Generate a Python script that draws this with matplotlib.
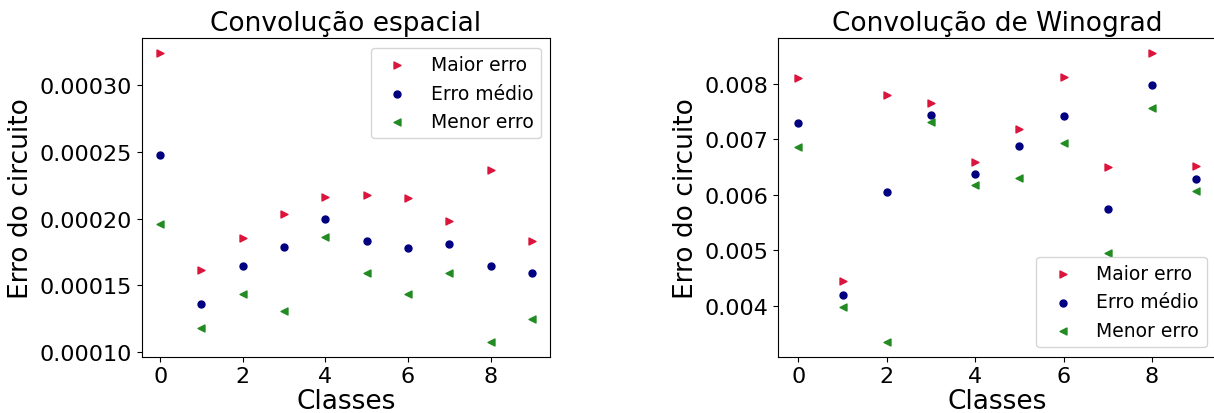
import matplotlib
matplotlib.use("Agg")
import matplotlib.pyplot as plt
import numpy as np

# =========================================================
# Data
# =========================================================
classes = np.arange(10)

# Convolucao espacial
esp_maior = [0.0003239, 0.0001615, 0.0001852, 0.0002036, 0.0002161,
             0.0002173, 0.0002156, 0.0001984, 0.0002360, 0.0001834]
esp_medio = [0.0002477, 0.0001363, 0.0001647, 0.0001787, 0.0001996,
             0.0001834, 0.0001782, 0.0001812, 0.0001643, 0.0001595]
esp_menor = [0.0001961, 0.0001184, 0.0001436, 0.0001311, 0.0001862,
             0.0001590, 0.0001438, 0.0001590, 0.0001075, 0.0001247]

# Convolucao de Winograd
win_maior = [0.008114, 0.004439, 0.007795, 0.007657, 0.006586,
             0.007182, 0.008126, 0.006502, 0.008565, 0.006514]
win_medio = [0.007302, 0.004198, 0.006057, 0.007441, 0.006376,
             0.006887, 0.007417, 0.005738, 0.007982, 0.006280]
win_menor = [0.006863, 0.003982, 0.003338, 0.007320, 0.006183,
             0.006304, 0.006935, 0.004950, 0.007561, 0.006069]

TITLES = ["Convolução espacial", "Convolução de Winograd"]
LEGEND_LOC = ["upper right", "lower right"]


def draw_panel(ax, maior, medio, menor, title, loc):
    ax.scatter(classes, maior, marker=">", s=25, color="crimson", label="Maior erro")
    ax.scatter(classes, medio, marker="o", s=25, color="navy", label="Erro médio")
    ax.scatter(classes, menor, marker="<", s=25, color="forestgreen", label="Menor erro")
    ax.set_title(title, fontsize=19)
    ax.set_xlabel("Classes", fontsize=19, labelpad=1)
    ax.set_ylabel("Erro do circuito", fontsize=19)
    ax.tick_params(labelsize=16)
    ax.set_xticks([0, 2, 4, 6, 8])
    ax.legend(loc=loc, fontsize=13.5)


fig = plt.figure(figsize=(12.14, 4.14), dpi=100)
ax1 = fig.add_axes([0.1166, 0.136, 0.3368, 0.769])
ax2 = fig.add_axes([0.6412, 0.136, 0.3605, 0.769])

draw_panel(ax1, esp_maior, esp_medio, esp_menor, TITLES[0], LEGEND_LOC[0])
draw_panel(ax2, win_maior, win_medio, win_menor, TITLES[1], LEGEND_LOC[1])

fig.savefig("out.png", dpi=100)
